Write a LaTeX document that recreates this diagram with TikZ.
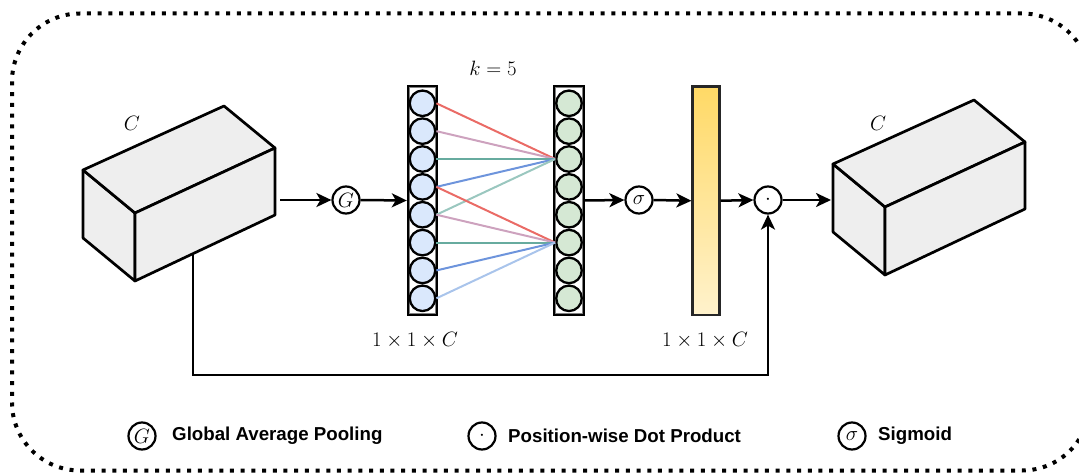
\documentclass[tikz,border=0pt]{standalone}
\usepackage{fontspec}
\newfontfamily\legendfont{Liberation Sans}
\usetikzlibrary{arrows.meta}
\definecolor{cubefill}{HTML}{EEEEEE}
\definecolor{cblue}{HTML}{DAE8FC}
\definecolor{cgreen}{HTML}{D5E8D4}
\definecolor{lred}{HTML}{EA6B66}
\definecolor{llilac}{HTML}{CDA2BE}
\definecolor{lteal}{HTML}{67AB9F}
\definecolor{lblue}{HTML}{6D94DC}
\definecolor{llteal}{HTML}{9AC7BF}
\definecolor{llblue}{HTML}{A9C4EB}
\definecolor{ytop}{HTML}{FFD966}
\definecolor{ybot}{HTML}{FFF2CC}
\tikzset{
  arr/.style={line width=2.5pt,-{Stealth[length=15pt,width=14pt,inset=4pt]}},
  opc/.style={circle,draw,line width=2.2pt,minimum size=27pt,inner sep=0pt,font=\fontsize{21}{25}\selectfont},
  cube/.style={draw,fill=cubefill,line width=2.7pt,line join=round},
  colbox/.style={draw,fill=white,line width=2.4pt,inner sep=0pt,minimum width=29pt,minimum height=229pt},
  cell/.style={circle,draw,line width=2.3pt,minimum size=25.5pt,inner sep=0pt},
  mlabel/.style={font=\fontsize{22}{26}\selectfont,inner sep=0pt},
  ltext/.style={font=\legendfont\bfseries\fontsize{18.7}{22}\selectfont,anchor=west,inner sep=0pt},
  conn/.style={line width=2pt}
}
\begin{document}
\begin{tikzpicture}[x=1pt,y=-1pt]
\useasboundingbox (0,0) rectangle (1079,473);
% dotted frame
\draw[line width=4pt,dash pattern=on 4pt off 6.7pt,rounded corners=68pt] (12,13.5) rectangle (1090,470.5);

% left cube
\coordinate (la) at (83,170); \coordinate (lb) at (135,213); \coordinate (lc) at (135,281);
\coordinate (ld) at (83,238); \coordinate (le) at (224,106); \coordinate (lf) at (275,148);
\coordinate (lg) at (275,215);
\draw[cube] (la) -- (lb) -- (lc) -- (ld) -- cycle;
\draw[cube] (la) -- (le) -- (lf) -- (lb) -- cycle;
\draw[cube] (lb) -- (lf) -- (lg) -- (lc) -- cycle;
\node[mlabel] (lcl) at (132,123) {$C$};

% right cube
\coordinate (ra) at (833,164); \coordinate (rb) at (885,207); \coordinate (rc) at (885,275);
\coordinate (rd) at (833,232); \coordinate (re) at (974,100); \coordinate (rf) at (1025,142);
\coordinate (rg) at (1025,209);
\draw[cube] (ra) -- (rb) -- (rc) -- (rd) -- cycle;
\draw[cube] (ra) -- (re) -- (rf) -- (rb) -- cycle;
\draw[cube] (rb) -- (rf) -- (rg) -- (rc) -- cycle;
\node[mlabel] (rcl) at (878,123) {$C$};

% operators
\node[opc] (g) at (346,200) {$G$};
\node[opc] (sig) at (639,200) {$\sigma$};
\node[opc] (dotp) at (768,200) {$\cdot$};

% columns
\node[colbox] (col1) at (422.5,200.5) {};
\node[colbox] (col2) at (569,200.5) {};
\draw[gray,line width=1pt] ([shift={(2.6pt,2.6pt)}]col1.south west) rectangle ([shift={(-2.6pt,-2.6pt)}]col1.north east);
\draw[gray,line width=1pt] ([shift={(2.6pt,2.6pt)}]col2.south west) rectangle ([shift={(-2.6pt,-2.6pt)}]col2.north east);
\foreach \i in {1,...,8}{
  \node[cell,fill=cblue] (a\i) at (422.5,{103.3+27.86*(\i-1)}) {};
  \node[cell,fill=cgreen] (b\i) at (569,{103.3+27.86*(\i-1)}) {};
}
\node[mlabel] (klab) at (493,68) {$k=5$};
\node[mlabel] (dim1) at (415,340) {$1\times1\times C$};

% connections
\draw[conn,lred]   (a1.east) -- (b3.west);
\draw[conn,llilac] (a2.east) -- (b3.west);
\draw[conn,lteal]  (a3.east) -- (b3.west);
\draw[conn,lblue]  (a4.east) -- (b3.west);
\draw[conn,llteal] (a5.east) -- (b3.west);
\draw[conn,lred]   (a4.east) -- (b6.west);
\draw[conn,llilac] (a5.east) -- (b6.west);
\draw[conn,lteal]  (a6.east) -- (b6.west);
\draw[conn,lblue]  (a7.east) -- (b6.west);
\draw[conn,llblue] (a8.east) -- (b6.west);

% yellow bar
\shade[top color=ytop,bottom color=ybot] (692.5,86.5) rectangle (719.5,315);
\node[draw=black!85,line width=2.2pt,minimum width=27pt,minimum height=228.5pt,inner sep=0pt] (bar) at (706,200.75) {};
\node[mlabel] (dim2) at (705,340) {$1\times1\times C$};

% arrows
\coordinate (lout) at (280,200);
\coordinate (rin) at (831,200);
\draw[arr] (lout) -- (g.west);
\draw[arr] (g.east) -- (col1.west);
\draw[arr] (col2.east) -- (sig.west);
\draw[arr] (sig.east) -- (bar.west);
\draw[arr] (bar.east) -- (dotp.west);
\draw[arr] (dotp.east) -- (rin);
\coordinate (skip) at (193,254);
\coordinate (skipa) at (193,375);
\coordinate (skipb) at (768,375);
\draw[arr] (skip) -- (skipa) -- (skipb) -- (dotp.south);

% legend
\node[opc] (lg1) at (142,436) {$G$};
\node[ltext] (lt1) at (172,436) {Global Average Pooling};
\node[opc] (lg2) at (482,436) {$\cdot$};
\node[ltext] (lt2) at (508,436) {Position-wise Dot Product};
\node[opc] (lg3) at (852,436) {$\sigma$};
\node[ltext] (lt3) at (878,436) {Sigmoid};
\end{tikzpicture}
\end{document}
